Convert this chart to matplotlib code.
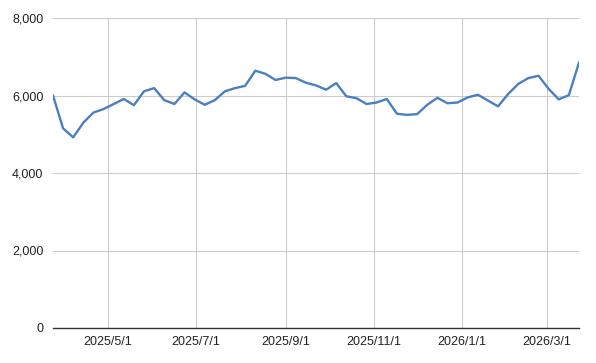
import matplotlib
matplotlib.use("Agg")
import matplotlib.pyplot as plt
import numpy as np
import pandas as pd

start_date = "2025-03-24"
n_weeks = 53
values = [6000, 5150, 4920, 5300, 5560, 5650, 5780, 5910, 5750, 6110,
          6190, 5880, 5780, 6080, 5900, 5760, 5880, 6110, 6190, 6250,
          6640, 6560, 6400, 6460, 6450, 6330, 6260, 6150, 6320, 5980,
          5930, 5780, 5820, 5910, 5530, 5500, 5520, 5760, 5940, 5800,
          5820, 5950, 6020, 5870, 5720, 6040, 6300, 6450, 6510, 6170,
          5900, 6010, 6850]
tick_dates = ["2025-05-01", "2025-07-01", "2025-09-01", "2025-11-01", "2026-01-01", "2026-03-01"]
tick_labels = ["2025/5/1", "2025/7/1", "2025/9/1", "2025/11/1", "2026/1/1", "2026/3/1"]
y_ticks = [0, 2000, 4000, 6000, 8000]
y_labels = ["0", "2,000", "4,000", "6,000", "8,000"]

dates = pd.date_range(start_date, periods=n_weeks, freq="7D")

plt.rcParams['font.family'] = ['Liberation Sans', 'DejaVu Sans']
fig = plt.figure(figsize=(5.96, 3.63), dpi=100)
ax = fig.add_axes([53/596, 1-328/363, (579-53)/596, (328-18)/363])

ax.plot(dates, values, color="#4a7fc1", lw=1.7, solid_joinstyle="round", zorder=3)

ax.set_xlim(dates[0], dates[-1])
ax.set_ylim(0, 8000)
ax.set_xticks(pd.to_datetime(tick_dates))
ax.set_xticklabels(tick_labels)
ax.set_yticks(y_ticks)
ax.set_yticklabels(y_labels)
ax.tick_params(axis="both", length=0, labelsize=9, colors="#222222")
ax.tick_params(axis="x", pad=6)
ax.tick_params(axis="y", pad=7)
ax.grid(True, color="#cccccc", lw=0.8, zorder=0)
for s in ["top", "right", "left"]:
    ax.spines[s].set_visible(False)
ax.spines["bottom"].set_color("#333333")
ax.spines["bottom"].set_linewidth(1.0)
ax.spines["bottom"].set_zorder(4)

fig.savefig("out.png", dpi=100)
